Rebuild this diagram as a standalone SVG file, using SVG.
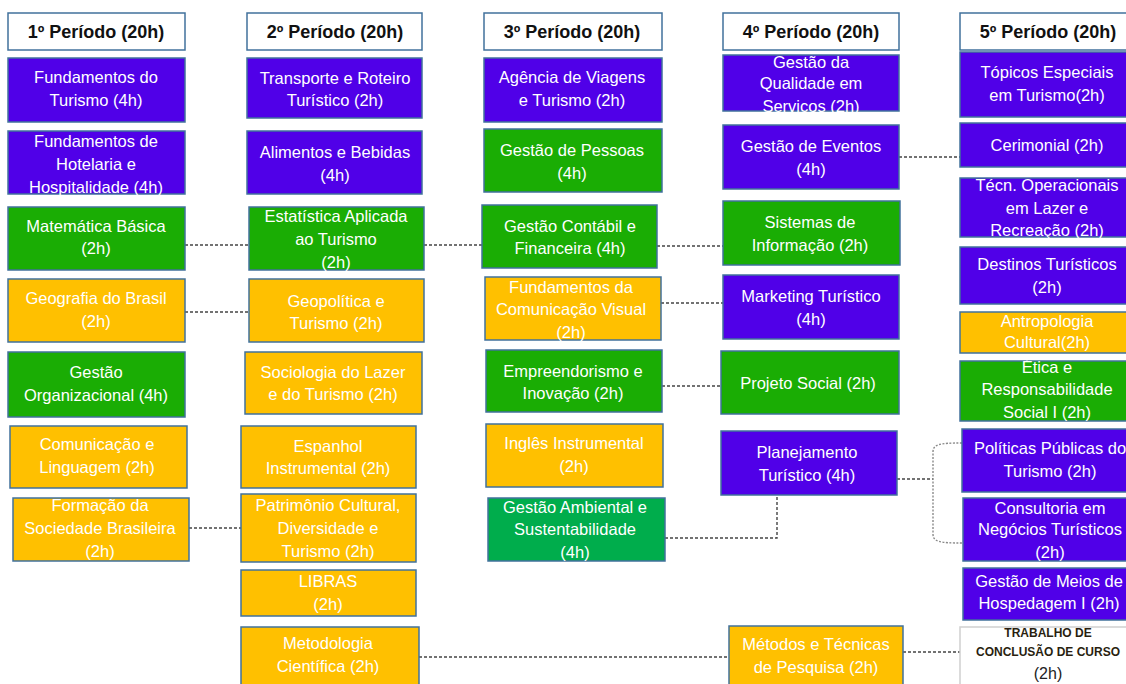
<svg xmlns="http://www.w3.org/2000/svg" width="1126" height="684" viewBox="0 0 1126 684">
<style>
rect{stroke:#41719C;stroke-width:1.5}
.w{fill:#FFFFFF}
.p{fill:#5000E8}
.g{fill:#1AAD04}
.g2{fill:#00AD4C}
.y{fill:#FFC000}
.tc{fill:#FFFFFF;stroke:#D0D0D0}
text{font-family:"Liberation Sans",Arial,sans-serif;font-size:16.5px;fill:#FFFFFF;text-anchor:middle}
.h{font-size:18px;font-weight:bold;fill:#111111}
.b{font-size:12px;font-weight:bold;fill:#2a1f10}
.d{font-size:16px;fill:#222222}
.c{fill:none;stroke:#444444;stroke-width:1.4;stroke-dasharray:3 2}
.c2{fill:none;stroke:#8a8a8a;stroke-width:1.4;stroke-dasharray:2 1.5}
</style>
<g id="connectors">
<path class="c" d="M185,245H249"/>
<path class="c" d="M185,312H249"/>
<path class="c" d="M189,528H241"/>
<path class="c" d="M424,245H482"/>
<path class="c" d="M657,246H723"/>
<path class="c" d="M661,303H723"/>
<path class="c" d="M662,386H721"/>
<path class="c" d="M665,538H777V496"/>
<path class="c" d="M899,157H960"/>
<path class="c" d="M897,479H933"/>
<path class="c2" d="M962,443C940,443 933,444 933,452V534C933,542 940,543 963,543"/>
<path class="c" d="M419,657H729"/>
<path class="c" d="M903,652H960"/>
</g>
<g id="h1"><rect class="w" x="8" y="13" width="177" height="37"/><text class="h" x="96" y="38">1º Período (20h)</text></g>
<g id="h2"><rect class="w" x="247" y="13" width="175" height="37"/><text class="h" x="335" y="38">2º Período (20h)</text></g>
<g id="h3"><rect class="w" x="484" y="13" width="178" height="37"/><text class="h" x="572" y="38">3º Período (20h)</text></g>
<g id="h4"><rect class="w" x="723" y="13" width="176" height="37"/><text class="h" x="811" y="38">4º Período (20h)</text></g>
<g id="h5"><rect class="w" x="960" y="13" width="176" height="37"/><text class="h" x="1048" y="38">5º Período (20h)</text></g>

<g id="n1a"><rect class="p" x="8" y="58" width="177" height="64"/><text x="96" y="83">Fundamentos do</text><text x="96" y="106">Turismo (4h)</text></g>
<g id="n1b"><rect class="p" x="8" y="131" width="177" height="63"/><text x="96" y="147">Fundamentos de</text><text x="96" y="170">Hotelaria e</text><text x="96" y="193">Hospitalidade (4h)</text></g>
<g id="n1c"><rect class="g" x="8" y="207" width="177" height="63"/><text x="96" y="232">Matemática Básica</text><text x="96" y="254">(2h)</text></g>
<g id="n1d"><rect class="y" x="8" y="279" width="177" height="63"/><text x="96" y="304">Geografia do Brasil</text><text x="96" y="327">(2h)</text></g>
<g id="n1e"><rect class="g" x="8" y="352" width="177" height="65"/><text x="96" y="378">Gestão</text><text x="96" y="401">Organizacional (4h)</text></g>
<g id="n1f"><rect class="y" x="10" y="426" width="177" height="62"/><text x="97" y="450">Comunicação e</text><text x="97" y="473">Linguagem (2h)</text></g>
<g id="n1g"><rect class="y" x="13" y="498" width="176" height="63"/><text x="100" y="511">Formação da</text><text x="100" y="534">Sociedade Brasileira</text><text x="100" y="557">(2h)</text></g>

<g id="n2a"><rect class="p" x="247" y="58" width="175" height="60"/><text x="335" y="84">Transporte e Roteiro</text><text x="335" y="106">Turístico (2h)</text></g>
<g id="n2b"><rect class="p" x="247" y="131" width="175" height="63"/><text x="335" y="158">Alimentos e Bebidas</text><text x="335" y="181">(4h)</text></g>
<g id="n2c"><rect class="g" x="249" y="207" width="175" height="63"/><text x="336" y="222">Estatística Aplicada</text><text x="336" y="245">ao Turismo</text><text x="336" y="268">(2h)</text></g>
<g id="n2d"><rect class="y" x="249" y="279" width="175" height="63"/><text x="336" y="307">Geopolítica e</text><text x="336" y="329">Turismo (2h)</text></g>
<g id="n2e"><rect class="y" x="245" y="352" width="177" height="62"/><text x="333" y="378">Sociologia do Lazer</text><text x="333" y="400">e do Turismo (2h)</text></g>
<g id="n2f"><rect class="y" x="241" y="426" width="175" height="62"/><text x="328" y="452">Espanhol</text><text x="328" y="474">Instrumental (2h)</text></g>
<g id="n2g"><rect class="y" x="241" y="494" width="175" height="68"/><text x="328" y="511">Patrimônio Cultural,</text><text x="328" y="534">Diversidade e</text><text x="328" y="557">Turismo (2h)</text></g>
<g id="n2h"><rect class="y" x="241" y="570" width="175" height="46"/><text x="328" y="587">LIBRAS</text><text x="328" y="610">(2h)</text></g>
<g id="n2i"><rect class="y" x="241" y="627" width="178" height="62"/><text x="328" y="649">Metodologia</text><text x="328" y="672">Científica (2h)</text></g>

<g id="n3a"><rect class="p" x="484" y="58" width="178" height="64"/><text x="572" y="83">Agência de Viagens</text><text x="572" y="106">e Turismo (2h)</text></g>
<g id="n3b"><rect class="g" x="484" y="129" width="178" height="63"/><text x="572" y="156">Gestão de Pessoas</text><text x="572" y="179">(4h)</text></g>
<g id="n3c"><rect class="g" x="482" y="205" width="175" height="63"/><text x="570" y="232">Gestão Contábil e</text><text x="570" y="254">Financeira (4h)</text></g>
<g id="n3d"><rect class="y" x="485" y="277" width="176" height="63"/><text x="571" y="293">Fundamentos da</text><text x="571" y="315">Comunicação Visual</text><text x="571" y="338">(2h)</text></g>
<g id="n3e"><rect class="g" x="486" y="350" width="176" height="62"/><text x="573" y="377">Empreendorismo e</text><text x="573" y="399">Inovação (2h)</text></g>
<g id="n3f"><rect class="y" x="486" y="424" width="177" height="63"/><text x="574" y="449">Inglês Instrumental</text><text x="574" y="472">(2h)</text></g>
<g id="n3g"><rect class="g2" x="488" y="498" width="177" height="63"/><text x="575" y="513">Gestão Ambiental e</text><text x="575" y="535">Sustentabilidade</text><text x="575" y="558">(4h)</text></g>

<g id="n4a"><rect class="p" x="723" y="55" width="176" height="56"/><text x="811" y="68">Gestão da</text><text x="811" y="89">Qualidade em</text><text x="811" y="112">Serviços (2h)</text></g>
<g id="n4b"><rect class="p" x="723" y="125" width="176" height="64"/><text x="811" y="152">Gestão de Eventos</text><text x="811" y="175">(4h)</text></g>
<g id="n4c"><rect class="g" x="723" y="201" width="177" height="64"/><text x="810" y="228">Sistemas de</text><text x="810" y="251">Informação (2h)</text></g>
<g id="n4d"><rect class="p" x="723" y="275" width="176" height="64"/><text x="811" y="302">Marketing Turístico</text><text x="811" y="325">(4h)</text></g>
<g id="n4e"><rect class="g" x="721" y="351" width="178" height="63"/><text x="808" y="389">Projeto Social (2h)</text></g>
<g id="n4f"><rect class="p" x="721" y="431" width="176" height="64"/><text x="807" y="458">Planejamento</text><text x="807" y="481">Turístico (4h)</text></g>
<g id="n4g"><rect class="y" x="729" y="626" width="174" height="62"/><text x="816" y="650">Métodos e Técnicas</text><text x="816" y="673">de Pesquisa (2h)</text></g>

<g id="n5a"><rect class="p" x="960" y="52" width="176" height="65"/><text x="1047" y="78">Tópicos Especiais</text><text x="1047" y="101">em Turismo(2h)</text></g>
<g id="n5b"><rect class="p" x="960" y="123" width="176" height="44"/><text x="1047" y="151">Cerimonial (2h)</text></g>
<g id="n5c"><rect class="p" x="960" y="178" width="176" height="59"/><text x="1047" y="191">Técn. Operacionais</text><text x="1047" y="214">em Lazer e</text><text x="1047" y="236">Recreação (2h)</text></g>
<g id="n5d"><rect class="p" x="960" y="247" width="176" height="57"/><text x="1047" y="270">Destinos Turísticos</text><text x="1047" y="293">(2h)</text></g>
<g id="n5e"><rect class="y" x="960" y="312" width="176" height="41"/><text x="1047" y="327">Antropologia</text><text x="1047" y="348">Cultural(2h)</text></g>
<g id="n5f"><rect class="g" x="960" y="361" width="176" height="60"/><text x="1047" y="373">Ética e</text><text x="1047" y="395">Responsabilidade</text><text x="1047" y="418">Social I (2h)</text></g>
<g id="n5g"><rect class="p" x="962" y="429" width="176" height="63"/><text x="1050" y="454">Políticas Públicas do</text><text x="1050" y="477">Turismo (2h)</text></g>
<g id="n5h"><rect class="p" x="963" y="498" width="176" height="63"/><text x="1050" y="514">Consultoria em</text><text x="1050" y="535">Negócios Turísticos</text><text x="1050" y="558">(2h)</text></g>
<g id="n5i"><rect class="p" x="963" y="568" width="176" height="52"/><text x="1049" y="587">Gestão de Meios de</text><text x="1049" y="609">Hospedagem I (2h)</text></g>
<g id="n5j"><rect class="tc" x="960" y="627" width="176" height="62"/><text class="b" x="1048" y="637">TRABALHO DE</text><text class="b" x="1048" y="656">CONCLUSÃO DE CURSO</text><text class="d" x="1048" y="679">(2h)</text></g>
</svg>
